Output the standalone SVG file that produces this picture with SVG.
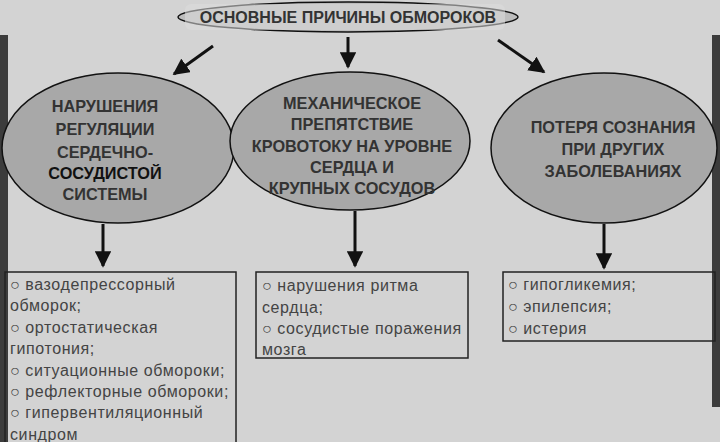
<svg xmlns="http://www.w3.org/2000/svg" width="720" height="442" viewBox="0 0 720 442">
<defs>
<marker id="ah" viewBox="0 0 10 10" refX="9" refY="5" markerWidth="5.5" markerHeight="5.5" orient="auto"><path d="M0,0L10,5L0,10z" fill="#111"/></marker>
<style>
.h{font-family:"Liberation Sans",Arial,sans-serif;font-weight:bold;font-size:16.3px;fill:#333;text-anchor:middle}
.t{font-family:"Liberation Sans",Arial,sans-serif;font-size:16px;fill:#444;letter-spacing:0.6px}
.e{fill:#a8a8a8;stroke:#111;stroke-width:1.5}
.b{fill:none;stroke:#222;stroke-width:1.5}
.c{stroke:#111;stroke-width:3;fill:none;marker-end:url(#ah)}
.hl{fill:#dcdcdc;opacity:0.55}
</style>
</defs>
<rect width="720" height="442" fill="#d3d3d3"/>
<rect x="0" y="35" width="8" height="407" fill="#3c3c3c"/>
<rect x="712" y="35" width="8" height="372" fill="#3c3c3c"/>
<g id="title"><ellipse cx="348" cy="17" rx="170" ry="15" fill="#bdbdbd" stroke="#111" stroke-width="1.5"/><rect class="hl" x="185" y="4" width="320" height="26" rx="6"/><text class="h" x="348" y="23" style="font-size:16px">ОСНОВНЫЕ ПРИЧИНЫ ОБМОРОКОВ</text></g>
<g id="n1"><ellipse class="e" cx="118" cy="148" rx="116" ry="75"/>
<text class="h" x="105" y="112">НАРУШЕНИЯ</text><text class="h" x="105" y="135">РЕГУЛЯЦИИ</text><text class="h" x="105" y="158">СЕРДЕЧНО-</text><text class="h" x="105" y="179" style="fill:#111">СОСУДИСТОЙ</text><text class="h" x="105" y="200">СИСТЕМЫ</text></g>
<g id="n2"><ellipse class="e" cx="350" cy="141" rx="120" ry="69"/>
<text class="h" x="352" y="109">МЕХАНИЧЕСКОЕ</text><text class="h" x="352" y="130">ПРЕПЯТСТВИЕ</text><text class="h" x="352" y="152">КРОВОТОКУ НА УРОВНЕ</text><text class="h" x="352" y="173">СЕРДЦА И</text><text class="h" x="352" y="194">КРУПНЫХ СОСУДОВ</text></g>
<g id="n3"><ellipse class="e" cx="604" cy="148" rx="113" ry="75"/>
<text class="h" x="613" y="133">ПОТЕРЯ СОЗНАНИЯ</text><text class="h" x="613" y="155">ПРИ ДРУГИХ</text><text class="h" x="613" y="177">ЗАБОЛЕВАНИЯХ</text></g>
<g id="b1"><rect class="b" x="5" y="272" width="231" height="175"/>
<text class="t" x="10" y="290">○  вазодепрессорный</text><text class="t" x="10" y="311">обморок;</text><text class="t" x="10" y="333">○  ортостатическая</text><text class="t" x="10" y="354">гипотония;</text><text class="t" x="10" y="376">○  ситуационные обмороки;</text><text class="t" x="10" y="397">○  рефлекторные обмороки;</text><text class="t" x="10" y="418">○  гипервентиляционный</text><text class="t" x="10" y="440">синдром</text></g>
<g id="b2"><rect class="b" x="256" y="272" width="212" height="86"/>
<text class="t" x="262" y="291">○  нарушения ритма</text><text class="t" x="262" y="313">сердца;</text><text class="t" x="262" y="334">○  сосудистые поражения</text><text class="t" x="262" y="355">мозга</text></g>
<g id="b3"><rect class="b" x="503" y="272" width="212" height="69"/>
<text class="t" x="508" y="290">○  гипогликемия;</text><text class="t" x="508" y="312">○  эпилепсия;</text><text class="t" x="508" y="334">○  истерия</text></g>
<g id="connectors">
<line class="c" x1="213" y1="46" x2="174" y2="74"/>
<line class="c" x1="348" y1="37" x2="348" y2="67"/>
<line class="c" x1="498" y1="40" x2="544" y2="72"/>
<line class="c" x1="103" y1="224" x2="103" y2="266"/>
<line class="c" x1="355" y1="211" x2="355" y2="266"/>
<line class="c" x1="604" y1="224" x2="604" y2="268"/>
</g>
</svg>
